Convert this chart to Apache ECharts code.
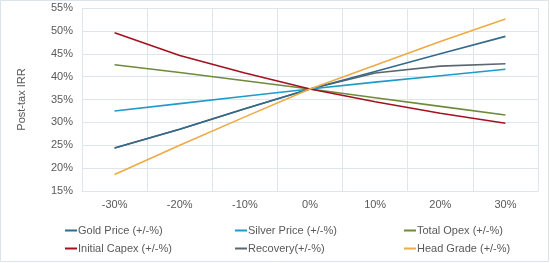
<!DOCTYPE html>
<html>
<head>
<meta charset="utf-8">
<script src="https://cdn.jsdelivr.net/npm/echarts@6/dist/echarts.min.js"></script>
<style>
  html, body { margin: 0; padding: 0; background: #fff; }
  #chart { width: 550px; height: 263px; }
</style>
</head>
<body>
<div id="chart"></div>
<script>
// sensitivity steps on the x axis
var categories = ['-30%', '-20%', '-10%', '0%', '10%', '20%', '30%']

// post-tax IRR, in %
var goldPrice    = [24.4, 28.5, 33.0, 37.3, 41.1, 45.0, 48.8]
var silverPrice  = [32.5, 34.1, 35.7, 37.3, 38.8, 40.2, 41.6]
var totalOpex    = [42.6, 40.9, 39.1, 37.3, 35.4, 33.5, 31.6]
var initialCapex = [49.6, 44.6, 40.8, 37.3, 34.5, 32.0, 29.8]
var recovery     = [24.4, 28.5, 33.0, 37.3, 40.8, 42.3, 42.8]
var headGrade    = [18.6, 25.0, 31.2, 37.3, 42.5, 47.7, 52.6]

var yTicks = { min: 15, max: 55, step: 5 }

var textColor = '#595959'
var gridColor = '#dfe5ec'

function line (name, data, color, z) {
  return {
    name: name,
    type: 'line',
    data: data,
    symbol: 'none',
    z: z || 2,
    lineStyle: { color: color, width: 1.6 },
    itemStyle: { color: color }
  }
}

function legendCol (left, names) {
  return {
    orient: 'vertical',
    left: left,
    top: 220,
    itemWidth: 12,
    itemHeight: 2,
    itemGap: 7,
    icon: 'rect',
    textStyle: { color: textColor, fontSize: 11, fontFamily: 'Liberation Sans', padding: [0, 0, 0, -4] },
    data: names
  }
}

var option = {
  animation: false,
  graphic: [{
    type: 'rect',
    shape: { x: 0.5, y: 0.5, width: 548, height: 261 },
    style: { fill: 'none', stroke: '#dde3ea', lineWidth: 1 },
    silent: true
  }],
  grid: { left: 82, right: 12, top: 8, bottom: 72 },
  legend: [
    legendCol(60, ['Gold Price (+/-%)', 'Initial Capex (+/-%)']),
    legendCol(230, ['Silver Price (+/-%)', 'Recovery(+/-%)']),
    legendCol(399, ['Total Opex (+/-%)', 'Head Grade (+/-%)'])
  ],
  xAxis: {
    type: 'category',
    boundaryGap: true,
    data: categories,
    axisLine: { lineStyle: { color: gridColor } },
    axisTick: { show: false },
    splitLine: { show: true, interval: 0, lineStyle: { color: gridColor } },
    axisLabel: { color: textColor, fontSize: 11, fontFamily: 'Liberation Sans', margin: 8 }
  },
  yAxis: {
    type: 'value',
    min: yTicks.min,
    max: yTicks.max,
    interval: yTicks.step,
    name: 'Post-tax IRR',
    nameLocation: 'middle',
    nameGap: 55,
    nameTextStyle: { color: textColor, fontSize: 11, fontFamily: 'Liberation Sans' },
    axisLine: { show: false },
    axisTick: { show: false },
    splitLine: { lineStyle: { color: gridColor } },
    axisLabel: { formatter: '{value}%', color: textColor, fontSize: 11, fontFamily: 'Liberation Sans', margin: 9 }
  },
  series: [
    line('Gold Price (+/-%)', goldPrice, '#336a8c', 3),
    line('Silver Price (+/-%)', silverPrice, '#1d9bc9', 3),
    line('Total Opex (+/-%)', totalOpex, '#6e8a3a', 3),
    line('Initial Capex (+/-%)', initialCapex, '#a3111f', 3),
    line('Recovery(+/-%)', recovery, '#5c666e', 2),
    line('Head Grade (+/-%)', headGrade, '#eeaa45', 3)
  ]
}

var myChart = echarts.init(document.getElementById('chart'))
myChart.setOption(option)
</script>
</body>
</html>
